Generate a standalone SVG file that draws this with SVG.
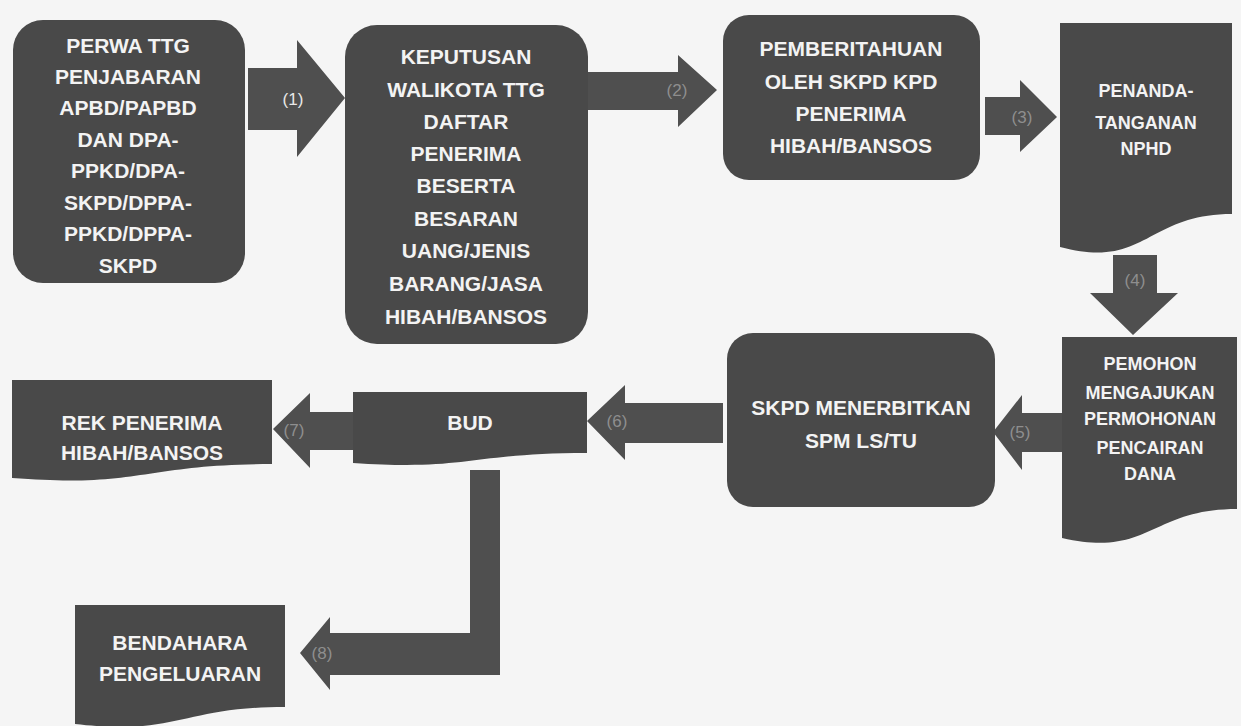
<svg xmlns="http://www.w3.org/2000/svg" width="1241" height="726" viewBox="0 0 1241 726">
<style>
.bg{fill:#f5f5f5}
.node{fill:#494949}
.conn{fill:#4f4f4f}
.t{font-family:"Liberation Sans",Arial,sans-serif;font-size:21px;font-weight:bold;fill:#f3f3f3;text-anchor:middle}
.s{font-size:18px}
.lbl{font-family:"Liberation Sans",Arial,sans-serif;font-size:17px;fill:#8e8e8e;text-anchor:middle}
.lbl1{fill:#e8e8e8}
</style>
<rect class="bg" x="0" y="0" width="1241" height="726"/>

<g id="connectors">
  <g id="c1"><path class="conn" d="M248,68 H297 V40 L345,98 L297,157 V130 H248 Z"/><text class="lbl lbl1" x="293" y="105">(1)</text></g>
  <g id="c2"><path class="conn" d="M588,72 H678 V55 L717,90 L678,127 V110 H588 Z"/><text class="lbl" x="677" y="96">(2)</text></g>
  <g id="c3"><path class="conn" d="M985,97 H1020 V80 L1057,117 L1020,152 V135 H985 Z"/><text class="lbl" x="1022" y="123">(3)</text></g>
  <g id="c4"><path class="conn" d="M1113,255 H1157 V293 H1178 L1133,335 L1090,293 H1113 Z"/><text class="lbl" x="1135" y="286">(4)</text></g>
  <g id="c5"><path class="conn" d="M1062,413 H1022 V395 L993,432 L1022,470 V452 H1062 Z"/><text class="lbl" x="1020" y="438">(5)</text></g>
  <g id="c6"><path class="conn" d="M723,403 H625 V385 L587,421 L625,460 V443 H723 Z"/><text class="lbl" x="617" y="427">(6)</text></g>
  <g id="c7"><path class="conn" d="M353,412 H310 V393 L273,429 L310,468 V450 H353 Z"/><text class="lbl" x="294" y="436">(7)</text></g>
  <g id="c8"><path class="conn" d="M470,470 H500 V675 H330 V690 L300,653 L330,617 V633 H470 Z"/><text class="lbl" x="322" y="659">(8)</text></g>
</g>

<g id="n1">
  <rect class="node" x="13" y="20" width="232" height="263" rx="30"/>
  <text class="t" x="128" y="53">PERWA TTG</text>
  <text class="t" x="128" y="84">PENJABARAN</text>
  <text class="t" x="128" y="115">APBD/PAPBD</text>
  <text class="t" x="128" y="147">DAN DPA-</text>
  <text class="t" x="128" y="178">PPKD/DPA-</text>
  <text class="t" x="128" y="210">SKPD/DPPA-</text>
  <text class="t" x="128" y="241">PPKD/DPPA-</text>
  <text class="t" x="128" y="273">SKPD</text>
</g>

<g id="n2">
  <rect class="node" x="345" y="25" width="243" height="319" rx="32"/>
  <text class="t" x="466" y="64">KEPUTUSAN</text>
  <text class="t" x="466" y="97">WALIKOTA TTG</text>
  <text class="t" x="466" y="129">DAFTAR</text>
  <text class="t" x="466" y="161">PENERIMA</text>
  <text class="t" x="466" y="193">BESERTA</text>
  <text class="t" x="466" y="226">BESARAN</text>
  <text class="t" x="466" y="258">UANG/JENIS</text>
  <text class="t" x="466" y="291">BARANG/JASA</text>
  <text class="t" x="466" y="324">HIBAH/BANSOS</text>
</g>

<g id="n3">
  <rect class="node" x="723" y="15" width="257" height="165" rx="26"/>
  <text class="t" x="851" y="56">PEMBERITAHUAN</text>
  <text class="t" x="851" y="89">OLEH SKPD KPD</text>
  <text class="t" x="851" y="121">PENERIMA</text>
  <text class="t" x="851" y="153">HIBAH/BANSOS</text>
</g>

<g id="n4">
  <path class="node" d="M1060,23 H1232 V214 C1146,214 1146,270 1060,247 Z"/>
  <text class="t s" x="1146" y="97">PENANDA-</text>
  <text class="t s" x="1146" y="129">TANGANAN</text>
  <text class="t s" x="1146" y="155">NPHD</text>
</g>

<g id="n5">
  <path class="node" d="M1062,337 H1237 V509 C1150,509 1150,558 1062,538 Z"/>
  <text class="t s" x="1150" y="370">PEMOHON</text>
  <text class="t s" x="1150" y="399">MENGAJUKAN</text>
  <text class="t s" x="1150" y="425">PERMOHONAN</text>
  <text class="t s" x="1150" y="454">PENCAIRAN</text>
  <text class="t s" x="1150" y="480">DANA</text>
</g>

<g id="n6">
  <rect class="node" x="727" y="333" width="268" height="174" rx="26"/>
  <text class="t" x="861" y="415">SKPD MENERBITKAN</text>
  <text class="t" x="861" y="448">SPM LS/TU</text>
</g>

<g id="n7">
  <path class="node" d="M353,392 H587 V453 C470,453 470,471 353,463 Z"/>
  <text class="t" x="470" y="430">BUD</text>
</g>

<g id="n8">
  <path class="node" d="M12,380 H272 V464 C142,464 142,488 12,478 Z"/>
  <text class="t" x="142" y="430">REK PENERIMA</text>
  <text class="t" x="142" y="460">HIBAH/BANSOS</text>
</g>

<g id="n9">
  <path class="node" d="M75,605 H285 V707 C180,707 180,736 75,724 Z"/>
  <text class="t" x="180" y="650">BENDAHARA</text>
  <text class="t" x="180" y="681">PENGELUARAN</text>
</g>
</svg>
